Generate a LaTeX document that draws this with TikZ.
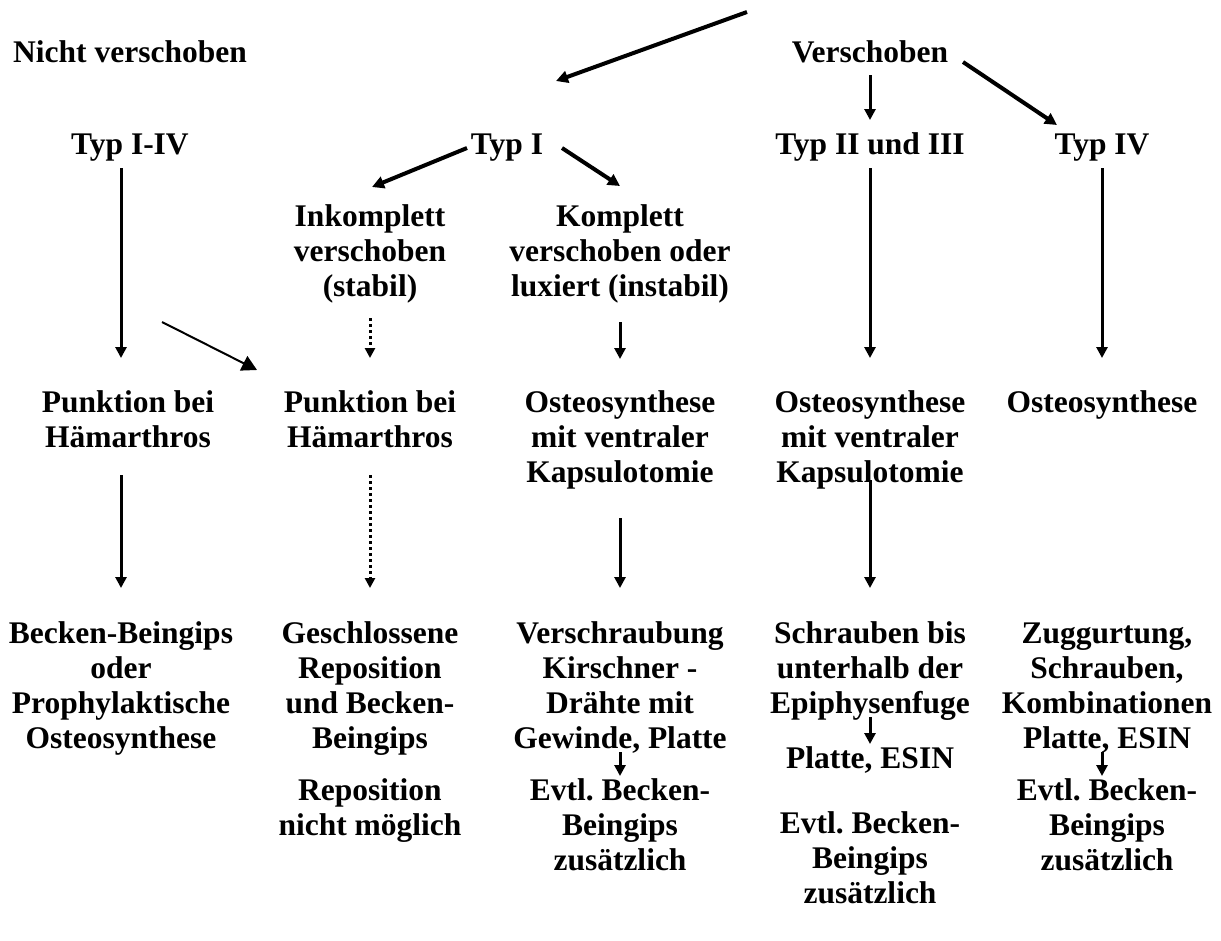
\documentclass[tikz,border=0pt]{standalone}
\usepackage{fontspec}
\setmainfont{Liberation Serif}
\usetikzlibrary{arrows.meta}
\frenchspacing
\begin{document}
\begin{tikzpicture}[x=1pt,y=-1pt,
  lbl/.style={anchor=base,align=center,inner sep=0pt,outer sep=0pt,
    font=\fontsize{31.5}{35}\selectfont\bfseries\frenchspacing},
  arr/.style={line width=3pt,-{Triangle[length=11pt,width=11pt]}},
  arrthick/.style={line width=4pt,-{Triangle[length=12pt,width=12pt]}},
  arrthin/.style={line width=2pt,-{Triangle[length=15pt,width=16pt]}},
  dotarr/.style={line width=3pt,dash pattern=on 3pt off 3pt,-{Triangle[length=10pt,width=10pt]}}]
\useasboundingbox (0,0) rectangle (1221,940);
% (node positions = baseline of the LAST line)
% row 0
\node[lbl] (nv) at (130,62) {Nicht verschoben};
\node[lbl] (vs) at (870,62) {Verschoben};
% row 1
\node[lbl] (t14) at (130,154) {Typ I-IV};
\node[lbl] (t1) at (507,154) {Typ I};
\node[lbl] (t23) at (870,154) {Typ II und III};
\node[lbl] (t4) at (1102,154) {Typ IV};
% row 2
\node[lbl] (ink) at (370,296) {Inkomplett\\verschoben\\(stabil)};
\node[lbl] (kom) at (620,296) {Komplett\\verschoben oder\\luxiert (instabil)};
% row 3
\node[lbl] (pk1) at (128,447) {Punktion bei\\Hämarthros};
\node[lbl] (pk2) at (370,447) {Punktion bei\\Hämarthros};
\node[lbl] (os1) at (620,482) {Osteosynthese\\mit ventraler\\Kapsulotomie};
\node[lbl] (os2) at (870,482) {Osteosynthese\\mit ventraler\\Kapsulotomie};
\node[lbl] (os3) at (1102,412) {Osteosynthese};
% row 4
\node[lbl] (bb) at (121,748) {Becken-Beingips\\oder\\Prophylaktische\\Osteosynthese};
\node[lbl] (gr) at (370,748) {Geschlossene\\Reposition\\und Becken-\\Beingips};
\node[lbl] (vk) at (620,748) {Verschraubung\\Kirschner -\\Drähte mit\\Gewinde, Platte};
\node[lbl] (sb) at (870,713) {Schrauben bis\\unterhalb der\\Epiphysenfuge};
\node[lbl] (zg) at (1107,748) {Zuggurtung,\\Schrauben,\\Kombinationen\\Platte, ESIN};
% row 5
\node[lbl] (rp) at (370,835) {Reposition\\nicht möglich};
\node[lbl] (ev1) at (620,870) {Evtl. Becken-\\Beingips\\zusätzlich};
\node[lbl] (pe) at (870,768) {Platte, ESIN};
\node[lbl] (ev2) at (870,903) {Evtl. Becken-\\Beingips\\zusätzlich};
\node[lbl] (ev3) at (1107,870) {Evtl. Becken-\\Beingips\\zusätzlich};
% free ends
\coordinate (top) at (747,12);
\coordinate (d0) at (162,322);
% arrows
\draw[arrthick] (top) -- ([shift={(49,-73)}]t1.base);
\draw[arr] ([shift={(0,13)}]vs.base) -- ([shift={(0,-34)}]t23.base);
\draw[arrthick] ([shift={(93,0)}]vs.base) -- ([shift={(-45,-29)}]t4.base);
\draw[arrthick] ([shift={(-40,-6)}]t1.base) -- ([shift={(2,-109)}]ink.base);
\draw[arrthick] ([shift={(55,-6)}]t1.base) -- ([shift={(0,-110)}]kom.base);
\draw[arr] ([shift={(-9,14)}]t14.base) -- ([shift={(-7,-89)}]pk1.base);
\draw[arrthin] (d0) -- ([shift={(-113,-77)}]pk2.base);
\draw[dotarr] ([shift={(0,22)}]ink.base) -- ([shift={(0,-89)}]pk2.base);
\draw[arr] ([shift={(0,26)}]kom.base) -- ([shift={(0,-123)}]os1.base);
\draw[arr] ([shift={(0,14)}]t23.base) -- ([shift={(0,-124)}]os2.base);
\draw[arr] ([shift={(0,14)}]t4.base) -- ([shift={(0,-54)}]os3.base);
\draw[arr] ([shift={(-7,28)}]pk1.base) -- ([shift={(0,-160)}]bb.base);
\draw[dotarr] ([shift={(0,28)}]pk2.base) -- ([shift={(0,-160)}]gr.base);
\draw[arr] ([shift={(0,36)}]os1.base) -- ([shift={(0,-160)}]vk.base);
\draw[arr] ([shift={(0,-2)}]os2.base) -- ([shift={(0,-125)}]sb.base);
\draw[arr] ([shift={(0,4)}]vk.base) -- ([shift={(0,-94)}]ev1.base);
\draw[arr] ([shift={(0,4)}]sb.base) -- ([shift={(0,-24)}]pe.base);
\draw[arr] ([shift={(-5,4)}]zg.base) -- ([shift={(-5,-94)}]ev3.base);
\end{tikzpicture}
\end{document}
